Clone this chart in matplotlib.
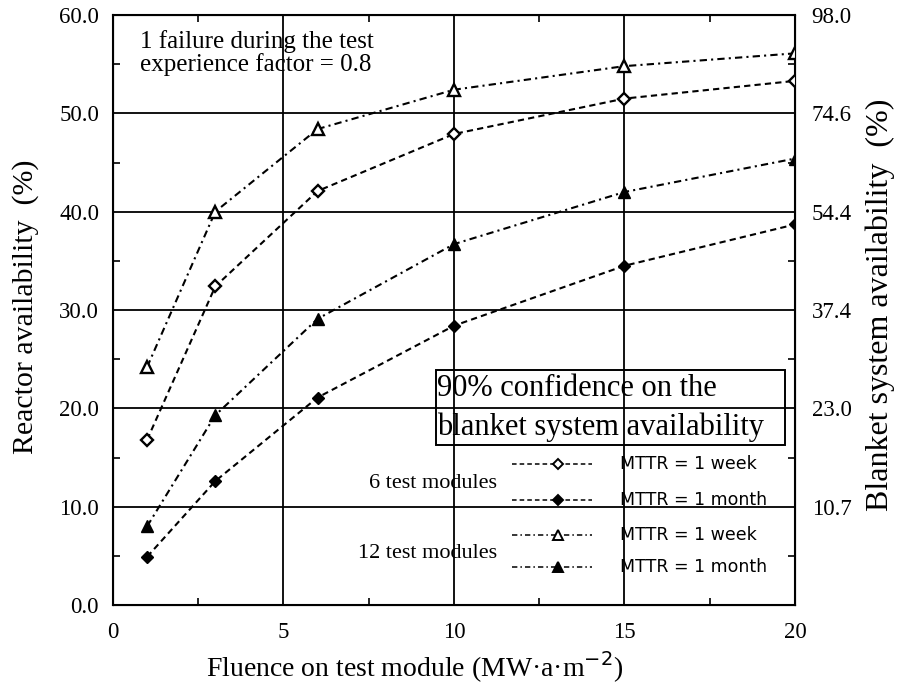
import matplotlib
matplotlib.use("Agg")
import matplotlib.pyplot as plt
from matplotlib.lines import Line2D
from matplotlib.patches import Rectangle

fluence = [1, 3, 6, 10, 15, 20]
m6_week = [16.8, 32.4, 42.1, 47.9, 51.5, 53.3]
m6_month = [4.9, 12.6, 21.1, 28.4, 34.5, 38.7]
m12_week = [24.2, 40.0, 48.4, 52.4, 54.8, 56.1]
m12_month = [8.0, 19.3, 29.1, 36.7, 42.0, 45.4]

left_ticks = [0, 10, 20, 30, 40, 50, 60]
right_ticks = [10, 20, 30, 40, 50, 60]
right_labels = ["10.7", "23.0", "37.4", "54.4", "74.6", "98.0"]
x_ticks = [0, 5, 10, 15, 20]
legend_labels = ["MTTR = 1 week", "MTTR = 1 month", "MTTR = 1 week", "MTTR = 1 month"]

serif = ["Liberation Serif", "DejaVu Serif"]
sans = ["DejaVu Sans"]

W, H = 912, 683
L, R, T, B = 113, 795, 15, 605

fig = plt.figure(figsize=(W / 100, H / 100), dpi=100)
ax = fig.add_axes([L / W, 1 - B / H, (R - L) / W, (B - T) / H])
ax.set_xlim(0, 20)
ax.set_ylim(0, 60)


def axx(px):
    return (px - L) / (R - L)


def axy(py):
    return (B - py) / (B - T)


for v in [5, 10, 15]:
    ax.axvline(v, color="black", lw=1.3, zorder=1)
for v in [10, 20, 30, 40, 50]:
    ax.axhline(v, color="black", lw=1.3, zorder=1)

lw = 1.5
dash = (0, (3, 2))
dashdot = (0, (3.5, 2, 1, 2))
ax.plot(fluence, m6_week, ls=dash, color="black", lw=lw, marker="D", ms=6,
        mfc="white", mec="black", mew=1.7, zorder=3)
ax.plot(fluence, m6_month, ls=dash, color="black", lw=lw, marker="D", ms=6,
        mfc="black", mec="black", zorder=3)
ax.plot(fluence, m12_week, ls=dashdot, color="black", lw=lw, marker="^", ms=8,
        mfc="white", mec="black", mew=1.7, zorder=3)
ax.plot(fluence, m12_month, ls=dashdot, color="black", lw=lw, marker="^", ms=8,
        mfc="black", mec="black", zorder=3)

ax.set_xticks(x_ticks)
ax.set_xticklabels([str(t) for t in x_ticks], family=serif, fontsize=16.5)
ax.set_yticks(left_ticks)
ax.set_yticklabels([f"{t:.1f}" for t in left_ticks], family=serif, fontsize=16.5)
ax.set_xticks([2.5, 7.5, 12.5, 17.5], minor=True)
ax.set_yticks([5, 15, 25, 35, 45, 55], minor=True)
ax.tick_params(which="both", direction="in", top=True, length=5, width=1.2)
ax.tick_params(which="major", length=0)
ax.tick_params(axis="x", which="major", pad=12)
ax.tick_params(axis="y", which="major", pad=10)
for s in ax.spines.values():
    s.set_linewidth(1.5)

ax2 = ax.twinx()
ax2.set_ylim(0, 60)
ax2.set_yticks(right_ticks)
ax2.set_yticklabels(right_labels, family=serif, fontsize=16.5)
ax2.set_yticks([5, 15, 25, 35, 45, 55], minor=True)
ax2.tick_params(which="both", direction="in", length=5, width=1.2)
ax2.tick_params(which="major", length=0, pad=12)

fig.text(415 / W, 1 - 667 / H, "Fluence on test module (MW\u00b7a\u00b7m$^{-2}$)",
         family=serif, fontsize=20, ha="center", va="center")
fig.text(26 / W, 1 - 307 / H, "Reactor availability  (%)", family=serif,
         fontsize=21.5, ha="center", va="center", rotation=90)
fig.text(880 / W, 1 - 305 / H, "Blanket system availability  (%)", family=serif,
         fontsize=23, ha="center", va="center", rotation=90)

ax.text(0.04, 0.975, "1 failure during the test\nexperience factor = 0.8",
        transform=ax.transAxes, family=serif, fontsize=18, va="top", ha="left",
        linespacing=1.0)

ax.add_patch(Rectangle((axx(436), axy(445)), axx(785) - axx(436), axy(370) - axy(445),
                       transform=ax.transAxes, fill=False, ec="black", lw=1.4, zorder=5))
ax.text(axx(437), axy(388), "90% confidence on the", transform=ax.transAxes,
        family=serif, fontsize=22, va="center", ha="left", zorder=5)
ax.text(axx(437), axy(427), "blanket system availability", transform=ax.transAxes,
        family=serif, fontsize=22, va="center", ha="left", zorder=5)

# legend
rows_y = [464, 500, 535, 567]
styles = [(dash, "D", "white", 5),
          (dash, "D", "black", 5),
          (dashdot, "^", "white", 6.5),
          (dashdot, "^", "black", 6.5)]
for ry, (ls, mk, fc, ms), lab in zip(rows_y, styles, legend_labels):
    yy = axy(ry)
    ax.add_line(Line2D([axx(512), axx(592)], [yy, yy], transform=ax.transAxes,
                       color="black", lw=1.1, ls=ls, zorder=4))
    ax.add_line(Line2D([axx(558)], [yy], transform=ax.transAxes, color="black",
                       marker=mk, ms=ms, mfc=fc, mec="black", mew=1.4, ls="none",
                       zorder=4))
    ax.text(axx(620), yy, lab, transform=ax.transAxes, family=sans,
            fontsize=12.5, va="center", ha="left", zorder=4)

ax.text(axx(497), axy(483), "6 test modules", transform=ax.transAxes,
        family=serif, fontsize=16, va="center", ha="right")
ax.text(axx(497), axy(554), "12 test modules", transform=ax.transAxes,
        family=serif, fontsize=16, va="center", ha="right")

fig.savefig("out.png", dpi=100)
